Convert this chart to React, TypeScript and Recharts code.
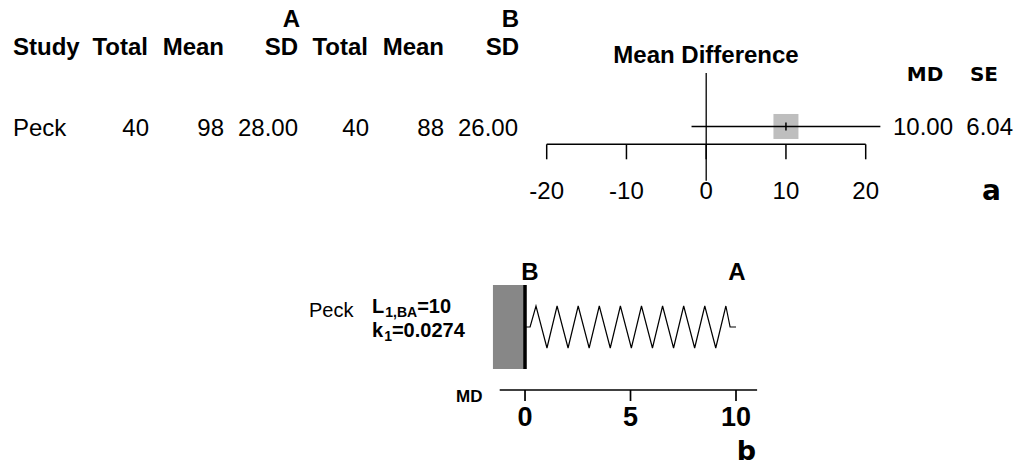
import React from 'react';
import { ComposedChart, XAxis, YAxis, Scatter, Line, ReferenceLine, ReferenceArea } from 'recharts';

// ---- data ----
const studies = ['Peck'];
const totalA = [40];
const meanA = [98];
const sdA = [28.0];
const totalB = [40];
const meanB = [88];
const sdB = [26.0];
const md = [10.0];
const se = [6.04];
const forestTicks = [-20, -10, 0, 10, 20];
const springTicks = [0, 5, 10];
const springLabelL = [10];
const springK = [0.0274];
// zig-zag spring drawn from B (0) to A (MD = 10)
const springX = [0, 0.24, 0.52, 1.04, 1.52, 2.04, 2.52, 3.04, 3.52, 4.04, 4.52, 5.04, 5.52, 6.04, 6.52, 7.04, 7.52, 8.04, 8.52, 9.04, 9.52, 9.72, 10];
const springY = [0, 0, 1, -1, 1, -1, 1, -1, 1, -1, 1, -1, 1, -1, 1, -1, 1, -1, 1, -1, 1, 0, 0];

const FONT = "'Liberation Sans', Arial, Helvetica, sans-serif";
const DJV = "'DejaVu Sans', sans-serif";

const forestData = studies.map((s, i) => ({ x: md[i], y: 1 }));
const ciLo = md.map((m, i) => m - 1.96 * se[i]);
const ciHi = md.map((m, i) => m + 1.96 * se[i]);
const springData = springX.map((x, i) => ({ x, y: springY[i] }));

const SquareShape = (props: any) => {
  const { cx, cy } = props;
  return (
    <g>
      <rect x={cx - 12.5} y={cy - 12.5} width={25} height={25} fill="#bebebe" />
      <line x1={cx} x2={cx} y1={cy - 4} y2={cy + 4} stroke="#000" strokeWidth={1.5} />
    </g>
  );
};

const fmt2 = (v: number) => v.toFixed(2);

export default function App() {
  return (
    <div style={{ position: 'absolute', left: 0, top: 0, width: 1016, height: 467, background: '#fff' }}>
      {/* Panel a: forest plot */}
      <div style={{ position: 'absolute', left: 0, top: 0 }}>
        <ComposedChart
          width={1016}
          height={220}
          data={forestData}
          margin={{ top: 73, right: 150.3, bottom: 0, left: 546.7 }}
        >
          <XAxis
            dataKey="x"
            type="number"
            domain={[-20, 20]}
            allowDataOverflow
            ticks={forestTicks}
            interval={0}
            height={75.7}
            tickSize={15}
            tickMargin={23}
            axisLine={{ stroke: '#000', strokeWidth: 1.5 }}
            tickLine={{ stroke: '#000', strokeWidth: 1.5 }}
            tick={{ fill: '#000', fontSize: 24, fontFamily: FONT }}
          />
          <YAxis dataKey="y" type="number" domain={[0, 4]} hide />
          <ReferenceLine
            segment={[{ x: 0, y: 4 }, { x: 0, y: -2.05 }]}
            stroke="#000"
            strokeWidth={1.3}
            ifOverflow="visible"
          />
          <Scatter data={forestData} dataKey="y" shape={SquareShape} isAnimationActive={false} />
          {studies.map((s, i) => (
            <ReferenceLine
              key={'ci' + s}
              segment={[{ x: ciLo[i], y: 1 }, { x: ciHi[i], y: 1 }]}
              stroke="#000"
              strokeWidth={1.3}
              ifOverflow="visible"
              zIndex={700}
            />
          ))}
        </ComposedChart>
      </div>

      {/* Panel b: spring */}
      <div style={{ position: 'absolute', left: 0, top: 0 }}>
        <ComposedChart
          width={1016}
          height={467}
          data={springData}
          margin={{ top: 285, right: 258.9, bottom: 0, left: 499.7 }}
        >
          <XAxis
            dataKey="x"
            type="number"
            domain={[-1.2, 11]}
            ticks={springTicks}
            interval={0}
            height={77}
            tickSize={11}
            tickMargin={6}
            axisLine={{ stroke: '#000', strokeWidth: 1.7 }}
            tickLine={{ stroke: '#000', strokeWidth: 1.7 }}
            tick={{ fill: '#000', fontSize: 27, fontWeight: 'bold', fontFamily: FONT }}
          />
          <YAxis dataKey="y" type="number" domain={[-3, 2]} hide />
          <ReferenceArea x1={-1.52} x2={0} y1={-2} y2={2} fill="#878787" fillOpacity={1} stroke="none" ifOverflow="visible" />
          <ReferenceLine segment={[{ x: 0, y: -2 }, { x: 0, y: 2 }]} stroke="#000" strokeWidth={3.5} ifOverflow="visible" />
          <Line dataKey="y" type="linear" stroke="#000" strokeWidth={1.2} dot={false} isAnimationActive={false} />
        </ComposedChart>
      </div>

      {/* Text */}
      <svg width={1016} height={467} style={{ position: 'absolute', left: 0, top: 0, pointerEvents: 'none' }}>
        <g fontFamily={FONT} fill="#000">
          <g fontWeight="bold" fontSize={24}>
            <text x={300} y={27} textAnchor="end">A</text>
            <text x={519} y={27} textAnchor="end">B</text>
            <text x={13} y={55}>Study</text>
            <text x={148} y={55} textAnchor="end">Total</text>
            <text x={224} y={55} textAnchor="end">Mean</text>
            <text x={298} y={55} textAnchor="end">SD</text>
            <text x={368} y={55} textAnchor="end">Total</text>
            <text x={444} y={55} textAnchor="end">Mean</text>
            <text x={519} y={55} textAnchor="end">SD</text>
            <text x={706} y={63} textAnchor="middle">Mean Difference</text>
          </g>
          {studies.map((s, i) => (
            <g key={s} fontSize={24}>
              <text x={13} y={136}>{s}</text>
              <text x={149} y={136} textAnchor="end">{totalA[i]}</text>
              <text x={224} y={136} textAnchor="end">{meanA[i]}</text>
              <text x={298} y={136} textAnchor="end">{fmt2(sdA[i])}</text>
              <text x={369} y={136} textAnchor="end">{totalB[i]}</text>
              <text x={444} y={136} textAnchor="end">{meanB[i]}</text>
              <text x={518} y={136} textAnchor="end">{fmt2(sdB[i])}</text>
              <text x={953} y={135} textAnchor="end">{fmt2(md[i])}</text>
              <text x={1013} y={135} textAnchor="end">{fmt2(se[i])}</text>
            </g>
          ))}
          <g fontFamily={DJV} fontWeight="bold" fontSize={20}>
            <text x={925} y={81} textAnchor="middle">MD</text>
            <text x={984} y={81} textAnchor="middle">SE</text>
          </g>
          <text x={1001} y={200} textAnchor="end" fontFamily={DJV} fontWeight="bold" fontSize={28}>a</text>

          {/* panel b texts */}
          <g fontWeight="bold" fontSize={24}>
            <text x={530} y={280} textAnchor="middle">B</text>
            <text x={737} y={280} textAnchor="middle">A</text>
          </g>
          {studies.map((s, i) => (
            <g key={'b' + s}>
              <text x={309} y={317} fontSize={20}>{s}</text>
              <text x={372} y={313} fontSize={20} fontWeight="bold">
                L<tspan fontSize={14} dx={1} dy={4}>1,BA</tspan>
                <tspan dy={-4}>={springLabelL[i]}</tspan>
              </text>
              <text x={372} y={337} fontSize={20} fontWeight="bold">
                k<tspan fontSize={14} dx={1} dy={4}>1</tspan>
                <tspan dy={-4}>={springK[i]}</tspan>
              </text>
            </g>
          ))}
          <text x={456} y={402} fontSize={17} fontWeight="bold">MD</text>
          <text x={756} y={460} textAnchor="end" fontFamily={DJV} fontWeight="bold" fontSize={27}>b</text>
        </g>
      </svg>
    </div>
  );
}
